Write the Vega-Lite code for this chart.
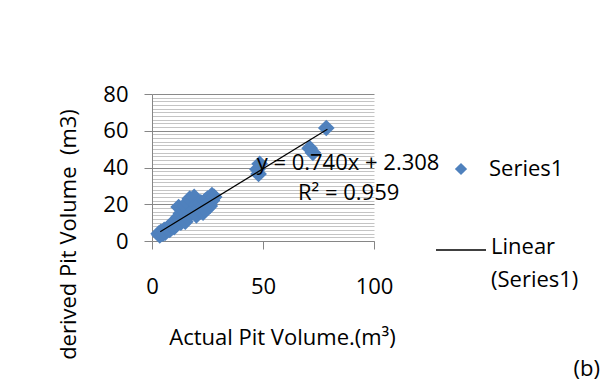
{
  "$schema": "https://vega.github.io/schema/vega-lite/v6.json",
  "autosize": "none",
  "width": 222,
  "height": 147,
  "padding": {"left": 152, "top": 94, "right": 237, "bottom": 141},
  "background": "white",
  "title": {"text": "(b)", "orient": "bottom", "anchor": "end", "frame": "group", "dx": 226, "offset": 0, "font": "Open Sans", "fontSize": 22, "fontWeight": "normal", "color": "#000000"},
  "datasets": {
    "pts": [
      {"x": 3, "y": 4}, {"x": 3.5, "y": 3}, {"x": 4, "y": 5}, {"x": 5, "y": 4}, {"x": 5.5, "y": 6},
      {"x": 6, "y": 4.5}, {"x": 7, "y": 6}, {"x": 7.5, "y": 7.5}, {"x": 8, "y": 6}, {"x": 9, "y": 8},
      {"x": 9.5, "y": 10}, {"x": 10, "y": 7.5}, {"x": 11, "y": 11}, {"x": 11, "y": 9}, {"x": 12, "y": 13},
      {"x": 12, "y": 18.5}, {"x": 13, "y": 10}, {"x": 13, "y": 15}, {"x": 14, "y": 12}, {"x": 14, "y": 17},
      {"x": 15, "y": 19}, {"x": 15, "y": 10.5}, {"x": 16, "y": 21}, {"x": 16, "y": 13}, {"x": 17, "y": 23},
      {"x": 17, "y": 14.5}, {"x": 18, "y": 16}, {"x": 18, "y": 22}, {"x": 19, "y": 24}, {"x": 19, "y": 17},
      {"x": 20, "y": 20}, {"x": 20, "y": 14}, {"x": 21, "y": 18}, {"x": 22, "y": 16}, {"x": 22, "y": 21},
      {"x": 23, "y": 15.5}, {"x": 23, "y": 19}, {"x": 24, "y": 22}, {"x": 25, "y": 23}, {"x": 25, "y": 18},
      {"x": 26, "y": 21}, {"x": 27, "y": 25}, {"x": 27, "y": 22}, {"x": 28, "y": 24}, {"x": 26, "y": 19},
      {"x": 24, "y": 17}, {"x": 78.5, "y": 61.5}, {"x": 71, "y": 50.5}, {"x": 72.5, "y": 48},
      {"x": 48.5, "y": 42}, {"x": 48, "y": 36.5}, {"x": 47.5, "y": 39}
    ],
    "trend": [
      {"x": 3.7, "y": 5.05, "series": "Linear (Series1)"},
      {"x": 79, "y": 60.77, "series": "Linear (Series1)"}
    ],
    "notes": [
      {"x": 88.3, "y": 42.7, "label": "y = 0.740x + 2.308"},
      {"x": 88.6, "y": 26.3, "label": "R² = 0.959"}
    ]
  },
  "layer": [
    {
      "data": {"name": "pts"},
      "mark": {"type": "point", "filled": true, "fill": "#4F81BD", "opacity": 1, "strokeWidth": 0, "size": 280},
      "encoding": {
        "x": {"field": "x", "type": "quantitative", "scale": {"domain": [0, 100], "nice": false},
          "axis": {"values": [0, 50, 100], "title": "Actual Pit Volume.(m³)", "grid": false, "labelFlush": false, "labelOverlap": false, "tickSize": 8, "tickColor": "#868686", "domainColor": "#868686", "labelPadding": 27, "titleX": 130, "titleY": 96, "titleBaseline": "middle", "titleAlign": "center"}},
        "y": {"field": "y", "type": "quantitative", "scale": {"domain": [0, 80], "nice": false},
          "axis": {"values": [0,2,4,6,8,10,12,14,16,18,20,22,24,26,28,30,32,34,36,38,40,42,44,46,48,50,52,54,56,58,60,62,64,66,68,70,72,74,76,78,80],
            "tickCount": 100,
            "labelExpr": "datum.value % 20 === 0 ? datum.label : ''",
            "labelOverlap": false, "labelBound": false, "labelFlush": false,
            "title": "derived Pit Volume \u00a0(m3)", "grid": true,
            "gridColor": {"condition": {"test": "datum.value % 20 === 0", "value": "#8a8a8a"}, "value": "#c4c4c4"},
            "tickOpacity": {"condition": {"test": "datum.value % 20 === 0", "value": 1}, "value": 0},
            "tickSize": 8, "tickColor": "#868686", "domainColor": "#868686", "labelPadding": 16,
            "titleX": -84, "titleY": 140, "titleBaseline": "middle", "titleAlign": "center", "titleAngle": -90}},
        "shape": {"datum": "Series1", "type": "nominal", "scale": {"domain": ["Series1"], "range": ["diamond"]},
          "legend": {"orient": "none", "legendX": 298, "legendY": 64, "title": null, "symbolSize": 150, "symbolFillColor": "#4F81BD", "symbolStrokeWidth": 0, "labelOffset": 17}}
      }
    },
    {
      "data": {"name": "trend"},
      "mark": {"type": "line", "strokeWidth": 1.2},
      "encoding": {
        "x": {"field": "x", "type": "quantitative"},
        "y": {"field": "y", "type": "quantitative"},
        "stroke": {"field": "series", "type": "nominal", "scale": {"domain": ["Linear (Series1)"], "range": ["#000000"]},
          "legend": {"orient": "none", "legendX": 283, "legendY": 130, "title": null, "symbolType": "stroke", "symbolSize": 2500, "symbolStrokeWidth": 1.3, "labelOffset": 4,
            "labelExpr": "['Linear', '(Series1)']", "labelBaseline": "top",
            "encode": {"labels": {"update": {"lineHeight": {"value": 33}, "dy": {"value": -13}}}}}}
      }
    },
    {
      "data": {"name": "notes"},
      "mark": {"type": "text", "font": "Open Sans", "fontSize": 22, "color": "#000000", "align": "center", "baseline": "middle"},
      "encoding": {
        "x": {"field": "x", "type": "quantitative"},
        "y": {"field": "y", "type": "quantitative"},
        "text": {"field": "label"}
      }
    }
  ],
  "config": {
    "font": "Open Sans",
    "view": {"stroke": null},
    "axis": {"labelFont": "Open Sans", "labelFontSize": 22, "labelColor": "#000000", "titleFont": "Open Sans", "titleFontSize": 22, "titleFontWeight": "normal", "titleColor": "#000000"},
    "legend": {"labelFont": "Open Sans", "labelFontSize": 22, "labelColor": "#000000", "padding": 0}
  }
}
